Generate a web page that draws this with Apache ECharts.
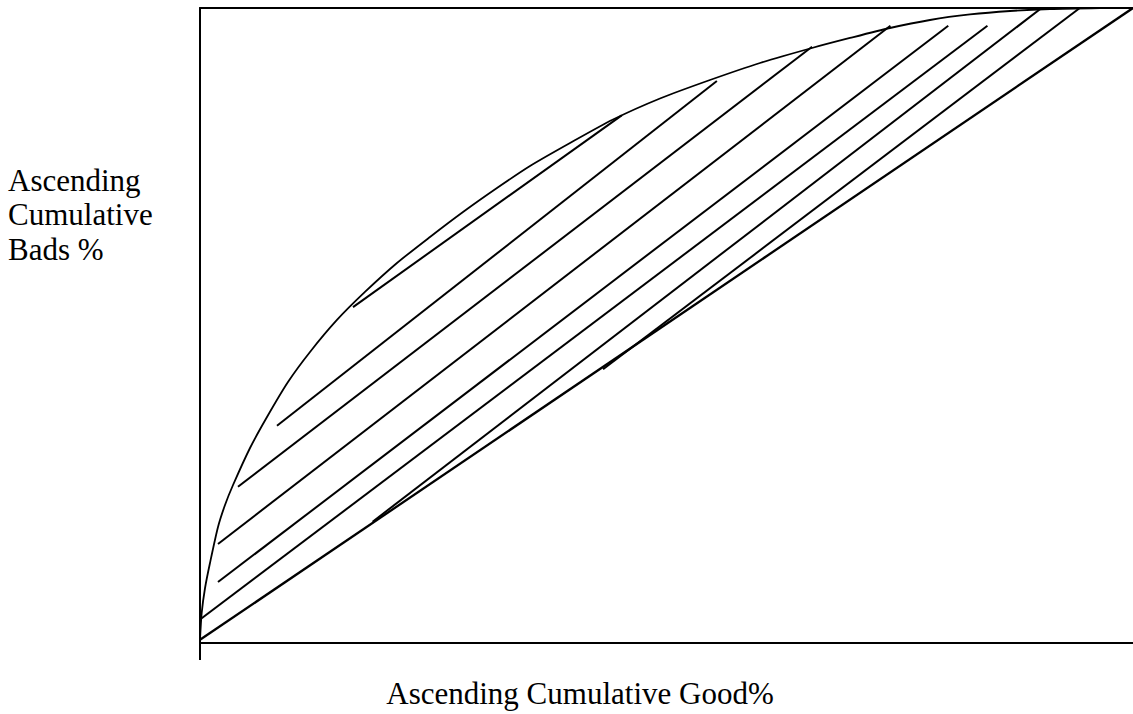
<!DOCTYPE html>
<html>
<head>
<meta charset="utf-8">
<script src="https://cdn.jsdelivr.net/npm/echarts@6/dist/echarts.min.js"></script>
<style>
html,body{margin:0;padding:0;background:#fff;}
#chart{width:1133px;height:714px;}
</style>
</head>
<body>
<div id="chart"></div>
<script>
// Ascending cumulative bads % (curve) vs ascending cumulative good %
var curveX = [0, 0.18, 0.54, 1.07, 1.93, 2.68, 3.54, 5.36, 7.18, 9.43, 11.79, 14.68, 17.68, 21.11, 24.65, 28.19, 31.83, 35.37, 39.66, 44.27, 49.3, 54.66, 60.02, 65.59, 69.67, 73.95, 78.24, 82.53, 86.82, 91.1, 96.46];
var curveY = [0.47, 4.72, 8.66, 12.6, 18.27, 21.73, 24.88, 30.71, 35.59, 41.1, 45.83, 50.87, 55.28, 59.84, 63.94, 67.87, 71.65, 75.12, 78.74, 82.44, 85.75, 88.66, 91.34, 93.7, 95.28, 96.85, 98.11, 98.98, 99.53, 99.84, 100];
// Random-model diagonal
var diagX = [0, 100];
var diagY = [0.5, 100];
// Hatch lines (start and end points)
var hatchStartX = [16.4, 8.25, 4.07, 1.93, 1.93, 0.18, 18.5, 43.2];
var hatchStartY = [52.9, 34.2, 24.6, 15.6, 9.6, 3.9, 19.1, 43.1];
var hatchEndX = [45.2, 55.4, 65.6, 74.0, 80.2, 84.4, 90.2, 94.3];
var hatchEndY = [83.1, 88.5, 93.9, 97.2, 97.2, 97.2, 100, 100];
var xTitle = 'Ascending Cumulative Good%';
var yTitle = 'Ascending\nCumulative\nBads %';

var FONT = '"Liberation Serif", "Times New Roman", serif';
function pairs(xs, ys) { return xs.map(function (x, i) { return [x, ys[i]]; }); }

var series = [];
series.push({
  type: 'line', data: pairs(curveX, curveY), smooth: 0.25,
  symbol: 'none', lineStyle: { color: '#000', width: 1.8 }, silent: true
});
series.push({
  type: 'line', data: pairs(diagX, diagY), symbol: 'none',
  lineStyle: { color: '#000', width: 2.3 }, silent: true
});
for (var i = 0; i < hatchStartX.length; i++) {
  series.push({
    type: 'line',
    data: [[hatchStartX[i], hatchStartY[i]], [hatchEndX[i], hatchEndY[i]]],
    symbol: 'none', lineStyle: { color: '#000', width: 2 }, silent: true
  });
}

var chart = echarts.init(document.getElementById('chart'), null, { renderer: 'svg' });
chart.setOption({
  animation: false,
  backgroundColor: '#fff',
  grid: { left: 200, right: 0, top: 8, bottom: 71 },
  xAxis: [{
    type: 'value', min: 0, max: 100, position: 'bottom',
    axisLine: { show: true, lineStyle: { color: '#000', width: 2 } },
    axisTick: { show: true, customValues: [0], length: 17, lineStyle: { color: '#000', width: 2 } },
    axisLabel: { show: false }, splitLine: { show: false }
  }, {
    type: 'value', min: 0, max: 100, position: 'top',
    axisLine: { show: true, lineStyle: { color: '#000', width: 2 } },
    axisTick: { show: false }, axisLabel: { show: false }, splitLine: { show: false }
  }],
  yAxis: {
    type: 'value', min: 0, max: 100,
    axisLine: { show: true, lineStyle: { color: '#000', width: 2 } },
    axisTick: { show: false }, axisLabel: { show: false }, splitLine: { show: false }
  },
  graphic: [{
    type: 'text', left: 8, top: 163,
    style: { text: yTitle, font: '31px ' + FONT, fill: '#000', lineHeight: 34.5 }
  }, {
    type: 'text', x: 580, y: 693,
    style: { text: xTitle, font: '31px ' + FONT, fill: '#000', align: 'center', verticalAlign: 'middle' }
  }],
  series: series
});
</script>
</body>
</html>
